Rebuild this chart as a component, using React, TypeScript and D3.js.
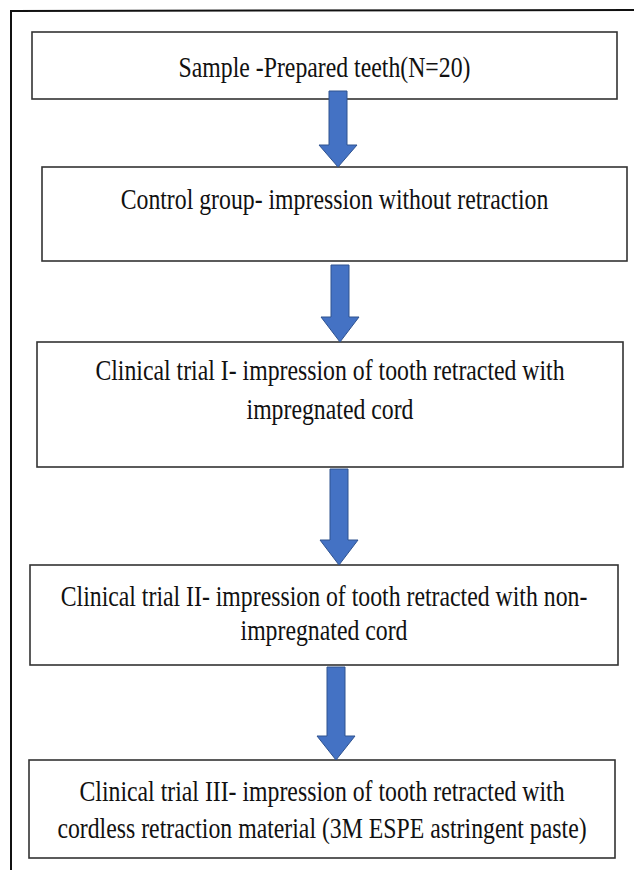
import React, { useEffect, useRef } from "react";
import * as d3 from "d3";

// flowchart steps, one entry per box, text split in lines
const stepLines: string[][] = [
  ["Sample -Prepared teeth(N=20)"],
  ["Control group- impression without retraction"],
  ["Clinical trial I- impression of tooth retracted with", "impregnated cord"],
  ["Clinical trial II- impression of tooth retracted with non-", "impregnated cord"],
  ["Clinical trial III- impression of tooth retracted with", "cordless retraction material (3M ESPE astringent paste)"],
];

// box layout (page pixels)
const boxLeft = [32, 42, 37, 30, 29];
const boxRight = [617, 627, 623, 618, 615];
const boxTop = [32, 167, 342, 565, 760];
const boxBottom = [99, 261, 467, 665, 858];
const textBase = [[77], [209], [380, 419], [606, 640], [801, 838]];

// arrow centres, shaft start, head start
const arrowX = [338, 340, 339, 336];
const arrowTop = [91, 265, 469, 667];
const headTop = [145, 317, 540, 736];

const W = 634;
const H = 870;

export default function App() {
  const svgRef = useRef<SVGSVGElement>(null);

  useEffect(() => {
    document.body.style.margin = "0";
    const svg = d3.select(svgRef.current);
    svg.selectAll("*").remove();
    svg.attr("width", W).attr("height", H).attr("viewBox", `0 0 ${W} ${H}`);

    svg.append("rect").attr("width", W).attr("height", H).attr("fill", "#fff");

    // outer frame, only top and left are visible
    svg.append("path")
      .attr("d", d3.line()([[11, H], [11, 11], [W, 10]]))
      .attr("fill", "none")
      .attr("stroke", "#111")
      .attr("stroke-width", 2);

    const boxes = svg.append("g");
    stepLines.forEach((lines, i) => {
      boxes.append("rect")
        .attr("x", boxLeft[i])
        .attr("y", boxTop[i])
        .attr("width", boxRight[i] - boxLeft[i])
        .attr("height", boxBottom[i] - boxTop[i])
        .attr("fill", "#fff")
        .attr("stroke", "#333")
        .attr("stroke-width", 1.6);
    });

    // arrows drawn after boxes so the shaft overlaps the box above
    const shaftHalf = 9;
    const headHalf = 19;
    arrowX.forEach((cx, i) => {
      const tip = boxTop[i + 1];
      const pts: [number, number][] = [
        [cx - shaftHalf, arrowTop[i]],
        [cx + shaftHalf, arrowTop[i]],
        [cx + shaftHalf, headTop[i]],
        [cx + headHalf, headTop[i]],
        [cx, tip],
        [cx - headHalf, headTop[i]],
        [cx - shaftHalf, headTop[i]],
      ];
      svg.append("path")
        .attr("d", d3.line()(pts) + "Z")
        .attr("fill", "#4472C4")
        .attr("stroke", "#2F528F")
        .attr("stroke-width", 1);
    });

    const labels = svg.append("g")
      .style("font-family", "\"Liberation Serif\", \"DejaVu Serif\", serif")
      .style("font-size", "29px")
      .attr("fill", "#111");

    stepLines.forEach((lines, i) => {
      const cx = (boxLeft[i] + boxRight[i]) / 2;
      lines.forEach((line, j) => {
        labels.append("text")
          .attr("transform", `translate(${cx},${textBase[i][j]}) scale(0.82,1)`)
          .attr("text-anchor", "middle")
          .text(line);
      });
    });
  }, []);

  return <svg ref={svgRef} style={{ display: "block" }}></svg>;
}
